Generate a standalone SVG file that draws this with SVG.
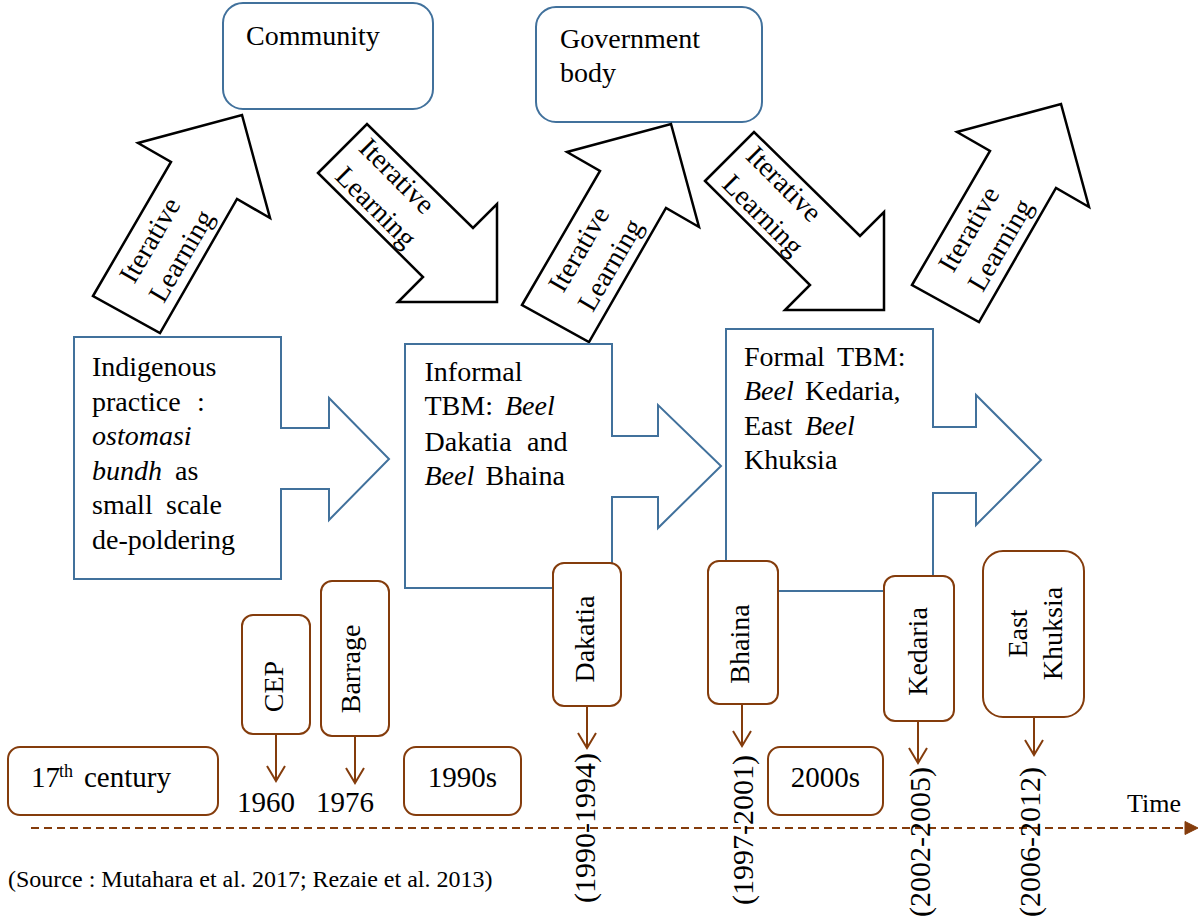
<svg xmlns="http://www.w3.org/2000/svg" xmlns:xlink="http://www.w3.org/1999/xlink" width="1203" height="916" viewBox="0 0 1203 916">
<defs>
<style>
.t{font-family:"Liberation Serif","Times New Roman",serif;fill:#000;font-size:28px}
.i{font-style:italic}
.d{font-size:30px}
.n{font-size:29px}
.s24{font-size:24px}
.s26{font-size:26px}
.sup{font-size:18px}
.call{fill:#fff;stroke:#41719C;stroke-width:2}
.top{fill:#fff;stroke:#41719C;stroke-width:2}
.blk{fill:#fff;stroke:#000;stroke-width:2.5;stroke-linejoin:miter}
.ev{fill:#fff;stroke:#843C0C;stroke-width:2}
.conn{stroke:#843C0C;stroke-width:2;fill:none}
</style>
<path id="upArrow" d="M0,0 L78,-134 L45,-153 L149,-181 L177,-78 L144,-97 L67,37 Z"/>
<path id="downArrow" d="M0,0 L49,-49 L155,55 L179,31 L179,129 L80,129 L105,104 Z"/>
<marker id="open" markerUnits="userSpaceOnUse" markerWidth="20" markerHeight="22" viewBox="-17 -11 20 22" refX="0" refY="0" orient="auto" overflow="visible">
<path d="M-15,-9 L0,0 L-15,9" fill="none" stroke="#843C0C" stroke-width="2"/>
</marker>
</defs>
<rect width="1203" height="916" fill="#fff"/>

<g id="community">
<rect class="top" x="223" y="3" width="210" height="106" rx="20"/>
<text class="t" x="246" y="45">Community</text>
</g>
<g id="government">
<rect class="top" x="536" y="7" width="226" height="115" rx="20"/>
<text class="t" x="560" y="48">Government</text>
<text class="t" x="560" y="82">body</text>
</g>

<g id="learning1" transform="translate(93,296)">
<use href="#upArrow" xlink:href="#upArrow" class="blk"/>
<g transform="translate(33.5,18.5) rotate(-59.8)">
<text class="t" x="76" y="-8" text-anchor="middle">Iterative</text>
<text class="t" x="78" y="27" text-anchor="middle">Learning</text>
</g>
</g>
<g id="learning2" transform="translate(318,173)">
<use href="#downArrow" xlink:href="#downArrow" class="blk"/>
<g transform="translate(24.5,-24.5) rotate(45)">
<text class="t" x="58" y="-10" text-anchor="middle">Iterative</text>
<text class="t" x="65" y="27" text-anchor="middle">Learning</text>
</g>
</g>
<g id="learning3" transform="translate(522,305)">
<use href="#upArrow" xlink:href="#upArrow" class="blk"/>
<g transform="translate(33.5,18.5) rotate(-59.8)">
<text class="t" x="76" y="-8" text-anchor="middle">Iterative</text>
<text class="t" x="78" y="27" text-anchor="middle">Learning</text>
</g>
</g>
<g id="learning4" transform="translate(705,181)">
<use href="#downArrow" xlink:href="#downArrow" class="blk"/>
<g transform="translate(24.5,-24.5) rotate(45)">
<text class="t" x="58" y="-10" text-anchor="middle">Iterative</text>
<text class="t" x="65" y="27" text-anchor="middle">Learning</text>
</g>
</g>
<g id="learning5" transform="translate(912,285)">
<use href="#upArrow" xlink:href="#upArrow" class="blk"/>
<g transform="translate(33.5,18.5) rotate(-59.8)">
<text class="t" x="76" y="-8" text-anchor="middle">Iterative</text>
<text class="t" x="78" y="27" text-anchor="middle">Learning</text>
</g>
</g>

<g id="indigenous">
<path class="call" d="M74,337 H281 V428 H329 V398 L389,459 L329,520 V489 H281 V579 H74 Z"/>
<text class="t" x="92" y="376">Indigenous</text>
<text class="t" y="410.5"><tspan x="92">practice</tspan><tspan x="197">:</tspan></text>
<text class="t i" x="92" y="445">ostomasi</text>
<text class="t" y="479.5"><tspan x="92" class="i">bundh</tspan><tspan x="175">as</tspan></text>
<text class="t" y="514"><tspan x="92">small</tspan><tspan x="166">scale</tspan></text>
<text class="t" x="92" y="548.5">de-poldering</text>
</g>
<g id="informal">
<path class="call" d="M405,344 H612 V436 H658 V405 L721,466 L658,528 V497 H612 V588 H405 Z"/>
<text class="t" x="424.5" y="381">Informal</text>
<text class="t" y="415"><tspan x="424.5">TBM:</tspan><tspan x="505" class="i">Beel</tspan></text>
<text class="t" y="450.5"><tspan x="424.5">Dakatia</tspan><tspan x="527">and</tspan></text>
<text class="t" y="485"><tspan x="424.5" class="i">Beel</tspan><tspan x="485.5">Bhaina</tspan></text>
</g>
<g id="formal">
<path class="call" d="M726,329 H933 V427 H976 V395 L1041,460 L976,525 V493 H933 V591 H726 Z"/>
<text class="t" y="366"><tspan x="744">Formal</tspan><tspan x="837">TBM:</tspan></text>
<text class="t" y="400"><tspan x="744" class="i">Beel</tspan><tspan x="805">Kedaria,</tspan></text>
<text class="t" y="435"><tspan x="744">East</tspan><tspan x="805" class="i">Beel</tspan></text>
<text class="t" x="744" y="469">Khuksia</text>
</g>

<g id="connectors">
<line class="conn" x1="276" y1="734" x2="276" y2="781" marker-end="url(#open)"/>
<line class="conn" x1="355" y1="736" x2="355" y2="783" marker-end="url(#open)"/>
<line class="conn" x1="587" y1="706" x2="587" y2="748" marker-end="url(#open)"/>
<line class="conn" x1="742" y1="704" x2="742" y2="746" marker-end="url(#open)"/>
<line class="conn" x1="918" y1="721" x2="918" y2="763" marker-end="url(#open)"/>
<line class="conn" x1="1034" y1="717" x2="1034" y2="755" marker-end="url(#open)"/>
<line class="conn" x1="31" y1="828" x2="1187" y2="828" stroke-dasharray="8 5"/>
<polygon points="1185,821.5 1198,828 1185,834.5" fill="#843C0C" stroke="#843C0C" stroke-width="1"/>
</g>

<g id="cep">
<rect class="ev" x="242" y="615" width="68" height="119" rx="11"/>
<text class="t" transform="translate(283,686.5) rotate(-90)" text-anchor="middle">CEP</text>
</g>
<g id="barrage">
<rect class="ev" x="321" y="581" width="68" height="155" rx="11"/>
<text class="t" transform="translate(360,669) rotate(-90)" text-anchor="middle">Barrage</text>
</g>
<g id="dakatia">
<rect class="ev" x="553" y="563" width="68" height="143" rx="11"/>
<text class="t" transform="translate(593.5,639) rotate(-90)" text-anchor="middle">Dakatia</text>
</g>
<g id="bhaina">
<rect class="ev" x="708" y="561" width="70" height="143" rx="11"/>
<text class="t" transform="translate(749,644) rotate(-90)" text-anchor="middle">Bhaina</text>
</g>
<g id="kedaria">
<rect class="ev" x="884" y="576" width="70" height="145" rx="11"/>
<text class="t" transform="translate(927,651.5) rotate(-90)" text-anchor="middle">Kedaria</text>
</g>
<g id="eastkhuksia">
<rect class="ev" x="983" y="551" width="101" height="166" rx="20"/>
<text class="t" transform="translate(1027,633.5) rotate(-90)" text-anchor="middle">East</text>
<text class="t" transform="translate(1062,633.5) rotate(-90)" text-anchor="middle">Khuksia</text>
</g>

<g id="century17">
<rect class="ev" x="8" y="747" width="210" height="68" rx="12"/>
<text class="t n" y="787"><tspan x="31">17</tspan><tspan class="sup" x="59" y="777">th</tspan><tspan x="84" y="787">century</tspan></text>
</g>
<g id="y1990s">
<rect class="ev" x="404" y="747" width="117" height="68" rx="12"/>
<text class="t n" x="462.5" y="787" text-anchor="middle">1990s</text>
</g>
<g id="y2000s">
<rect class="ev" x="768" y="747" width="115" height="68" rx="12"/>
<text class="t n" x="825.5" y="787" text-anchor="middle">2000s</text>
</g>

<g id="dates">
<text class="t n" x="266" y="812" text-anchor="middle">1960</text>
<text class="t n" x="345" y="812" text-anchor="middle">1976</text>
<text class="t d" transform="translate(595,753) rotate(-90)" text-anchor="end">(1990-1994)</text>
<text class="t d" transform="translate(752.5,755) rotate(-90)" text-anchor="end">(1997-2001)</text>
<text class="t d" transform="translate(929.5,767) rotate(-90)" text-anchor="end">(2002-2005)</text>
<text class="t d" transform="translate(1039.5,767) rotate(-90)" text-anchor="end">(2006-2012)</text>
<text class="t s26" x="1127" y="812">Time</text>
</g>

<text class="t s24" x="8" y="887">(Source : Mutahara et al. 2017; Rezaie et al. 2013)</text>
</svg>
